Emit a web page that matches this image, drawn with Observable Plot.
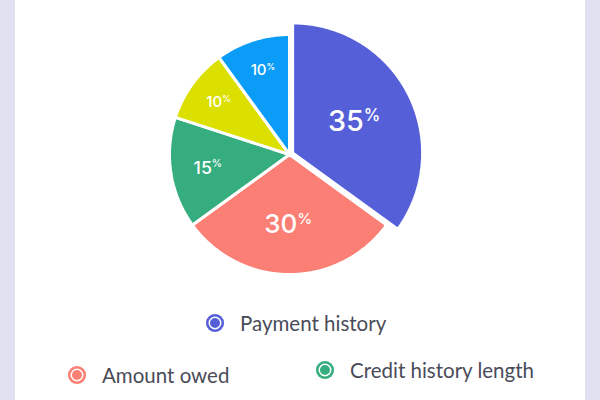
<!DOCTYPE html>
<html>
<head>
<meta charset="utf-8">
<script src="https://cdn.jsdelivr.net/npm/d3@7"></script>
<script src="https://cdn.jsdelivr.net/npm/@observablehq/plot@0.6"></script>
<style>
  html, body { margin: 0; padding: 0; }
  body { width: 600px; height: 400px; overflow: hidden; background: #e0e1f1; font-family: "Lato", "Inter", sans-serif; }
  #card { position: absolute; left: 15px; top: 0; width: 570px; height: 400px; background: #ffffff; }
  #chart { position: absolute; left: 0; top: 0; }
  .item { position: absolute; display: flex; align-items: center; font-size: 20.5px; color: #4a4c59; white-space: nowrap; }
  .swatch { width: 18px; height: 18px; border-radius: 50%; box-sizing: border-box; margin-right: 16px; flex: none; }
</style>
</head>
<body>
<div id="card"></div>
<div id="chart"></div>
<div id="legend"></div>
<script>
// ---- data ----
const categories = ["Payment history", "Amount owed", "Credit history length", "New credit", "Credit mix"];
const shares = [35, 30, 15, 10, 10];
const colors = ["#5560d8", "#fb7f74", "#35ad7e", "#dbe000", "#0b9cf8"];
const legendShown = ["Payment history", "Amount owed", "Credit history length"];

// ---- geometry (pixel-unit scales centred on the pie) ----
const W = 600, H = 300;
const cx = 289, cy = 154;       // pie centre in pixels
const R = 120;                  // base radius
const Rpop = 130;               // radius of highlighted slice
const popOffset = 3.5;

const pie = d3.pie().sort(null).value(d => d.value)(
  categories.map((c, i) => ({name: c, value: shares[i], color: colors[i]}))
);

const pts = [];
const labels = [];
pie.forEach((s, i) => {
  const pop = i === 0;
  const r = pop ? Rpop : R;
  const mid = (s.startAngle + s.endAngle) / 2;
  const ox = pop ? popOffset * Math.sin(mid) : 0;
  const oy = pop ? popOffset * Math.cos(mid) : 0;
  pts.push({k: i, x: ox, y: oy, c: s.data.color});
  const n = Math.max(2, Math.ceil((s.endAngle - s.startAngle) / 0.01));
  for (let j = 0; j <= n; j++) {
    const a = s.startAngle + (s.endAngle - s.startAngle) * j / n;
    pts.push({k: i, x: ox + r * Math.sin(a), y: oy + r * Math.cos(a), c: s.data.color});
  }
  const share = s.data.value / 100;
  const lr = r * (0.82 - 0.8 * share);
  const fs = 9.5 + 55 * share;
  const lx = ox + lr * Math.sin(mid);
  const ly = oy + lr * Math.cos(mid);
  labels.push({
    num: String(s.data.value), x: lx + fs * 0.3, y: ly - fs * 0.02, fs,
    px: lx + fs * 0.3, py: ly + fs * 0.2, pfs: fs * 0.58
  });
});

const plot = Plot.plot({
  width: W, height: H,
  margin: 0,
  x: {domain: [-cx, W - cx], range: [0, W], axis: null},
  y: {domain: [cy - H, cy], range: [H, 0], axis: null},
  style: {background: "transparent", overflow: "visible"},
  marks: [
    Plot.line(pts, {x: "x", y: "y", z: "k", fill: "c", stroke: "#ffffff", strokeWidth: 3, strokeLinejoin: "miter", curve: "linear-closed"}),
    Plot.text(labels, {x: "x", y: "y", text: "num", fontSize: "fs", textAnchor: "end", fill: "#ffffff", fontWeight: 500, fontFamily: "Inter, Lato, sans-serif"}),
    Plot.text(labels, {x: "px", y: "py", text: () => "%", fontSize: "pfs", textAnchor: "start", fill: "#ffffff", fontWeight: 500, fontFamily: "Inter, Lato, sans-serif"})
  ]
});
document.getElementById("chart").appendChild(plot);

// ---- legend (HTML, below the SVG) ----
const legendPos = {
  "Payment history": [206, 323],
  "Amount owed": [68, 375],
  "Credit history length": [316, 370]
};
const legend = document.getElementById("legend");
legendShown.forEach(name => {
  const i = categories.indexOf(name);
  const [lx, ly] = legendPos[name];
  const div = document.createElement("div");
  div.className = "item";
  div.style.left = lx + "px";
  div.style.top = (ly - 13) + "px";
  div.style.height = "26px";
  const sw = document.createElement("span");
  sw.className = "swatch";
  sw.style.background = colors[i];
  sw.style.boxShadow = `inset 0 0 0 2.5px ${colors[i]}, inset 0 0 0 4px #ffffff`;
  const tx = document.createElement("span");
  tx.textContent = name;
  div.appendChild(sw);
  div.appendChild(tx);
  legend.appendChild(div);
});
</script>
</body>
</html>
